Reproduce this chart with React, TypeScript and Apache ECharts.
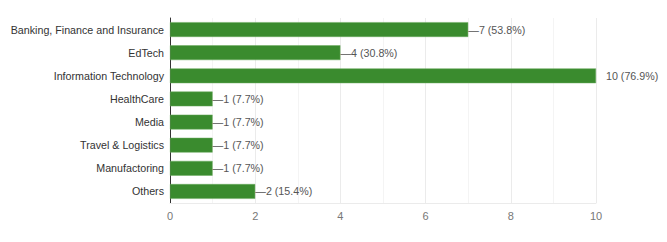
import React, { useEffect, useRef } from "react";
import * as echarts from "echarts";

const categories = [
  "Banking, Finance and Insurance",
  "EdTech",
  "Information Technology",
  "HealthCare",
  "Media",
  "Travel & Logistics",
  "Manufactoring",
  "Others",
];
const counts = [7, 4, 10, 1, 1, 1, 1, 2];
const percents = ["53.8%", "30.8%", "76.9%", "7.7%", "7.7%", "7.7%", "7.7%", "15.4%"];
const xMax = 10;

export default function App() {
  const ref = useRef<HTMLDivElement>(null);
  useEffect(() => {
    document.body.style.margin = "0";
    if (!ref.current) return;
    const chart = echarts.init(ref.current, undefined, { renderer: "svg" });
    const font = "Liberation Sans, Arial, sans-serif";
    chart.setOption({
      animation: false,
      grid: { left: 170, right: 71, top: 18, bottom: 39, containLabel: false },
      xAxis: {
        type: "value",
        min: 0,
        max: xMax,
        interval: 2,
        axisLine: { show: true, lineStyle: { color: "#ebebeb" } },
        axisTick: { show: false },
        splitLine: { show: true, lineStyle: { color: "#ebebeb" } },
        minorTick: { show: false, splitNumber: 2 },
        minorSplitLine: { show: true, lineStyle: { color: "#f4f4f4" } },
        axisLabel: { color: "#777777", fontSize: 11, fontFamily: font, margin: 7 },
      },
      yAxis: {
        type: "category",
        data: categories,
        inverse: true,
        axisLine: { show: true, lineStyle: { color: "#333", width: 1 } },
        axisTick: { show: false },
        axisLabel: { color: "#333", fontSize: 10.7, fontFamily: font, margin: 6 },
      },
      series: [
        {
          type: "bar",
          data: counts.map((v, i) => ({
            value: v,
            label: {
              show: true,
              position: "right",
              distance: v === xMax ? 10 : 0,
              color: "#555",
              fontSize: 10.7,
              fontFamily: font,
              formatter: (v === xMax ? "" : "—") + v + " (" + percents[i] + ")",
            },
          })),
          barWidth: "64%",
          itemStyle: { color: "#3a8b2e", borderColor: "#6aaa5e", borderWidth: 0.5 },
        },
      ],
    });
    return () => chart.dispose();
  }, []);
  return <div ref={ref} style={{ width: 667, height: 242 }} />;
}
